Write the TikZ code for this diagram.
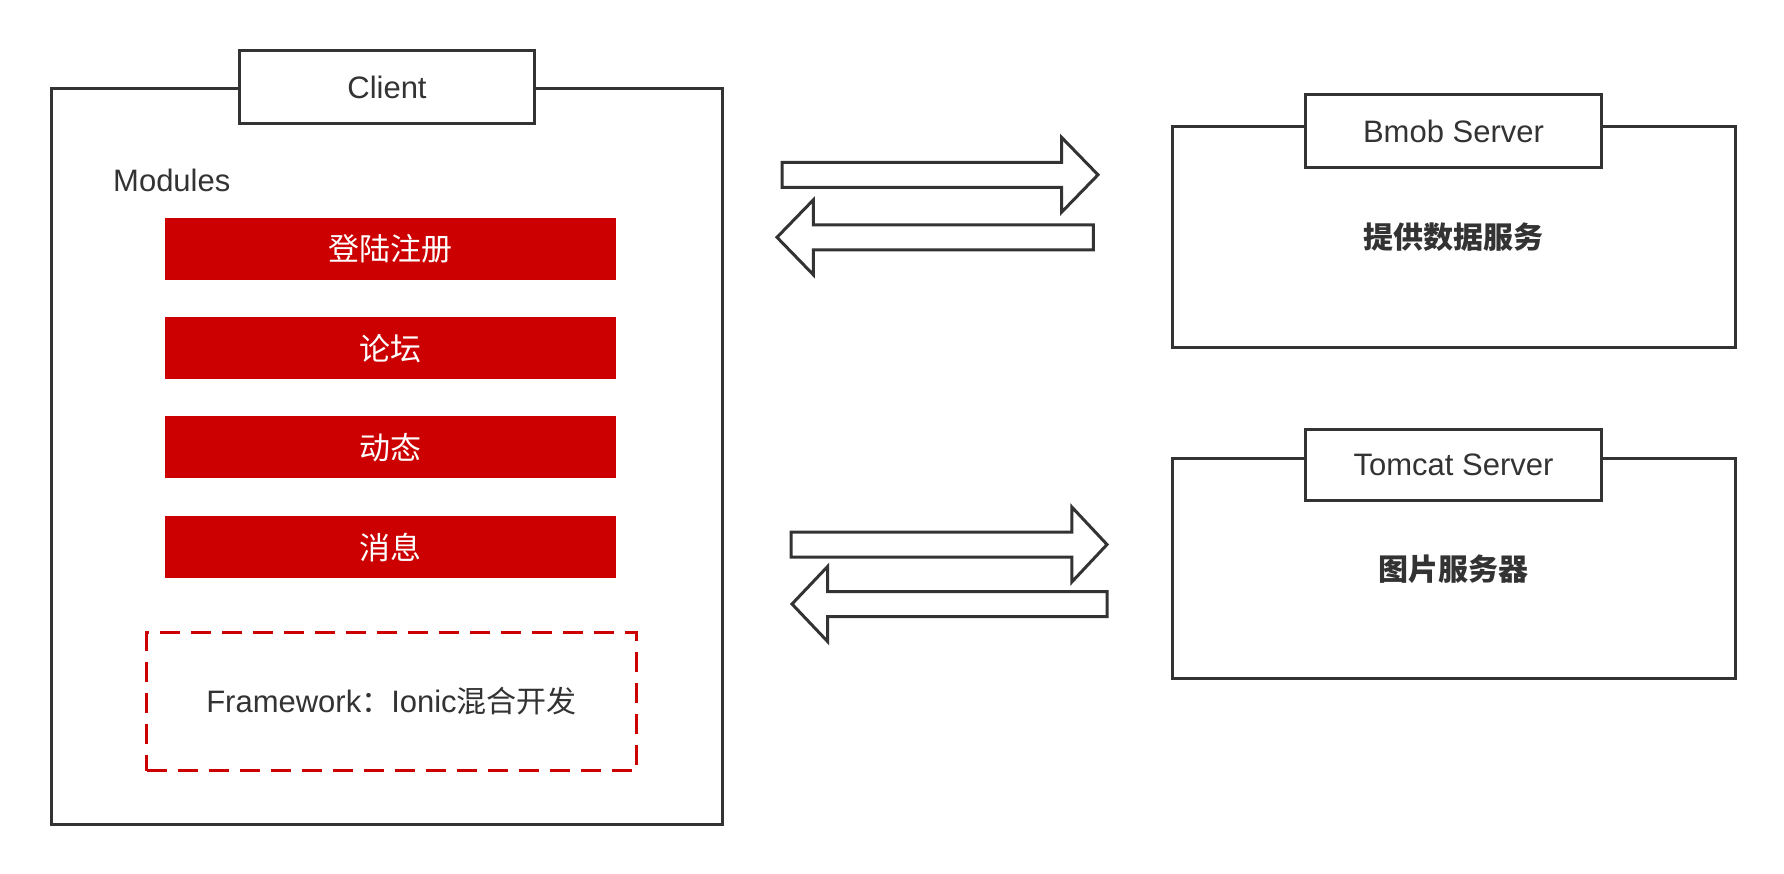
\documentclass[tikz,border=0pt]{standalone}
\usepackage{fontspec}
\setmainfont{Liberation Sans}
\newfontfamily\cjk{Noto Sans CJK SC}
\definecolor{ink}{HTML}{333333}
\definecolor{mred}{HTML}{CC0000}
\newcommand\blockarrow[4]{%
  \draw[blk] ({#1},{#4-12.5}) -- ({#2},{#4-12.5}) -- ({#2},{#4-37.5}) -- ({#3},{#4})
    -- ({#2},{#4+37.5}) -- ({#2},{#4+12.5}) -- ({#1},{#4+12.5}) -- cycle;}
\begin{document}
\begin{tikzpicture}[x=1pt,y=-1pt,
  frame/.style={draw=ink, line width=3pt, fill=white, inner sep=0pt, anchor=north west},
  tabbox/.style={draw=ink, line width=3pt, fill=white, inner sep=0pt, anchor=north west,
    text=ink, font=\fontsize{31}{34}\selectfont},
  module/.style={fill=mred, text=white, inner sep=0pt, anchor=north west,
    minimum width=451pt, minimum height=62pt, font=\fontsize{31}{34}\selectfont\cjk},
  dashbox/.style={draw=mred, line width=3pt, dash pattern=on 20pt off 11pt, inner sep=0pt,
    anchor=north west},
  lbl/.style={text=ink, inner sep=0pt, font=\fontsize{31}{34}\selectfont},
  cjklbl/.style={text=ink, inner sep=0pt, font=\fontsize{30}{34}\selectfont\cjk\bfseries},
  blk/.style={draw=ink, line width=3pt, fill=white, line join=miter}
]
\useasboundingbox[fill=white] (0,0) rectangle (1784,873);

% Client
\node[frame, minimum width=671pt, minimum height=736pt] (client) at (50,87) {};
\node[tabbox, minimum width=295pt, minimum height=73pt] (clienttab) at (238,49) {Client};
\node[lbl, anchor=base west] (modules) at (113,191) {Modules};
\node[module] (m1) at (165,218) {登陆注册};
\node[module] (m2) at (165,317) {论坛};
\node[module] (m3) at (165,416) {动态};
\node[module] (m4) at (165,516) {消息};
\node[dashbox, minimum width=490pt, minimum height=138pt] (fw) at (145,631) {};
\node[lbl] (fwtext) at (fw.center) {Framework{\cjk\fontsize{30}{34}\selectfont ：}Ionic{\cjk\fontsize{30}{34}\selectfont 混合开发}};

% Bmob
\node[frame, minimum width=563pt, minimum height=221pt] (bmob) at (1171,125) {};
\node[tabbox, minimum width=296pt, minimum height=73pt] (bmobtab) at (1304,93) {Bmob Server};
\node[cjklbl] (bmobtext) at (1453,237) {提供数据服务};

% Tomcat
\node[frame, minimum width=563pt, minimum height=220pt] (tomcat) at (1171,457) {};
\node[tabbox, minimum width=296pt, minimum height=71pt] (tomcattab) at (1304,428) {Tomcat Server};
\node[cjklbl] (tomcattext) at (1453,569) {图片服务器};

% arrows
\blockarrow{782}{1061.5}{1098}{174.8}
\blockarrow{1093.4}{813.4}{777}{237.3}
\blockarrow{791}{1071.8}{1107}{544.5}
\blockarrow{1107}{827.6}{792}{604}
\end{tikzpicture}
\end{document}
